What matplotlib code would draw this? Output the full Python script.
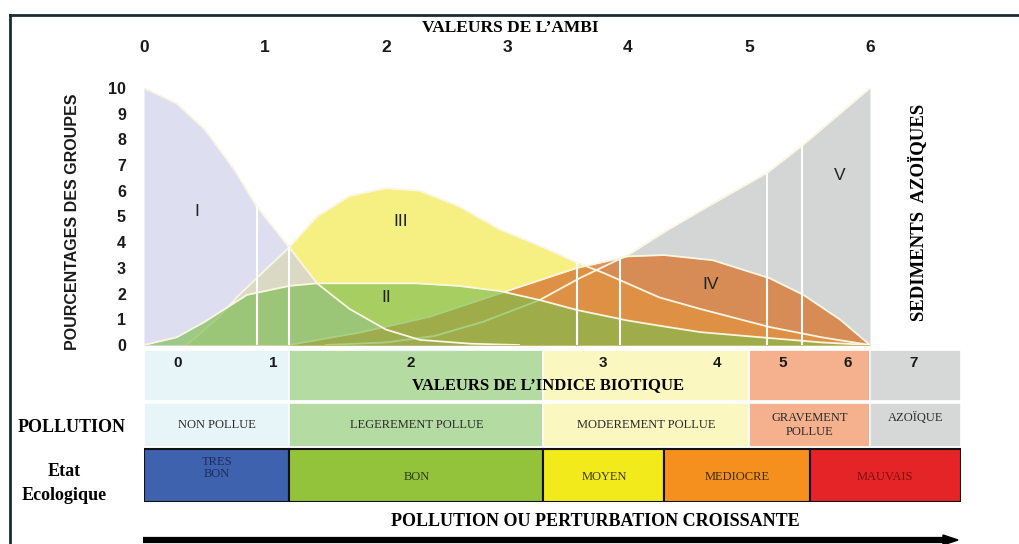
import numpy as np
import matplotlib
matplotlib.use("Agg")
import matplotlib.pyplot as plt
from matplotlib.patches import Rectangle

W, H = 1019, 544
SERIF = "Liberation Serif"
SANS = "Liberation Sans"

# --- data (AMBI value -> percentage of groups) ---
g1_x = [0, 0.27, 0.5, 0.75, 0.93, 1.2, 1.43, 1.7, 2.0, 2.28, 2.7, 3.1]
g1_y = [10, 9.4, 8.4, 6.8, 5.4, 3.8, 2.4, 1.4, 0.6, 0.2, 0.05, 0]

g2_x = [0, 0.27, 0.5, 0.85, 1.2, 1.43, 1.8, 2.25, 2.6, 2.94, 3.27, 3.58, 4.0, 4.26, 4.6, 5.17, 5.6, 6.0]
g2_y = [0, 0.3, 0.9, 1.95, 2.3, 2.4, 2.4, 2.4, 2.3, 2.1, 1.75, 1.36, 0.95, 0.75, 0.5, 0.27, 0.1, 0]

g3_x = [0.35, 0.6, 0.77, 0.93, 1.2, 1.43, 1.7, 2.0, 2.28, 2.6, 2.94, 3.3, 3.58, 3.8, 4.26, 4.6, 5.17, 5.6, 6.0]
g3_y = [0, 1.0, 1.87, 2.6, 3.8, 5.0, 5.8, 6.1, 6.0, 5.4, 4.5, 3.8, 3.2, 2.8, 1.85, 1.4, 0.7, 0.3, 0]

g4_x = [1.2, 1.8, 2.36, 3.0, 3.58, 4.0, 4.3, 4.7, 5.17, 5.45, 5.75, 6.0]
g4_y = [0, 0.5, 1.1, 2.1, 3.0, 3.45, 3.5, 3.3, 2.6, 1.95, 1.0, 0]

g5_x = [1.5, 2.0, 2.4, 2.8, 3.27, 3.6, 4.0, 4.3, 4.7, 5.15, 5.45, 6.0]
g5_y = [0, 0.1, 0.35, 0.9, 1.75, 2.6, 3.5, 4.4, 5.5, 6.7, 7.8, 10]

split_x = [0.93, 1.2, 3.58, 3.93, 5.15, 5.44]

ambi_ticks = [0, 1, 2, 3, 4, 5, 6]
pct_ticks = list(range(11))

# class limits (AMBI scale)
pollution_bounds = [0, 1.2, 3.3, 5.0, 6.0, 6.75]
pollution_labels = ["NON POLLUE", "LEGEREMENT POLLUE", "MODEREMENT POLLUE", "GRAVEMENT\nPOLLUE", "AZOÏQUE"]
pollution_colors = ["#e8f5f8", "#b4dca2", "#fbf7c0", "#f5b08d", "#d6d7d7"]

eco_bounds = [0, 1.2, 3.3, 4.3, 5.5, 6.75]
eco_labels = ["TRES\nBON", "BON", "MOYEN", "MEDIOCRE", "MAUVAIS"]
eco_colors = ["#3f62ae", "#93c23b", "#f2ea1a", "#f5901f", "#e52427"]
eco_text = ["#1d2c58", "#2f3a1a", "#3a3a10", "#3a2a10", "#7a1010"]

bi_labels = ["0", "1", "2", "3", "4", "5", "6", "7"]
bi_pos = [0.28, 1.07, 2.2, 3.79, 4.73, 5.28, 5.81, 6.36]

# drawing order: name, x, y, colour, alpha, fill zorder, outline zorder
groups = [
    ("V", g5_x, g5_y, "#d4d6d6", 1.0, 2, 5.5),
    ("III", g3_x, g3_y, "#f6f083", 1.0, 3, 5.5),
    ("I", g1_x, g1_y, "#cccde8", 0.65, 4, 10),
    ("IV", g4_x, g4_y, "#d97a35", 0.8, 5, 5.5),
    ("II", g2_x, g2_y, "#7cbd4e", 0.65, 6, 10),
]
roman_pos = {"I": (0.44, 5.2), "III": (2.12, 4.8), "II": (2.0, 1.85),
             "IV": (4.68, 2.35), "V": (5.75, 6.6)}


def fx(px):
    return px / W


def fy(py):
    return 1 - py / H


fig = plt.figure(figsize=(W / 100, H / 100), dpi=100)

# frame
fig.add_artist(plt.Line2D([fx(10), fx(1019)], [fy(15), fy(15)], color="#1b2b30", lw=2))
fig.add_artist(plt.Line2D([fx(10), fx(10)], [fy(15), fy(544)], color="#1b2b30", lw=2))

# --- curves ---
ax = fig.add_axes([fx(144), fy(345), 726 / W, 257 / H])
for name, x, y, col, a, zf, zl in groups:
    ax.fill_between(x, 0, y, color=col, alpha=a, lw=0, zorder=zf)
    ax.plot(x, y, color="#fbf6e2", lw=1.3, zorder=zl)

xs = np.linspace(0, 6, 601)
envelope = np.max([np.interp(xs, g[1], g[2], left=0, right=0) for g in groups], axis=0)
for sx in split_x:
    ax.vlines(sx, 0, np.interp(sx, xs, envelope), color="white", lw=1.5, zorder=11)

for name, (rx, ry) in roman_pos.items():
    ax.text(rx, ry, name, ha="center", va="center", fontsize=12.5, family=SANS,
            color="#222222", zorder=12)

ax.set_xlim(0, 6)
ax.set_ylim(0, 10)
for s in ax.spines.values():
    s.set_visible(False)
ax.xaxis.tick_top()
ax.set_xticks(ambi_ticks)
ax.set_yticks(pct_ticks)
ax.tick_params(axis="x", length=0, pad=24, labelsize=12.5)
ax.tick_params(axis="y", length=0, pad=13, labelsize=11.5)
for lab in ax.get_xticklabels() + ax.get_yticklabels():
    lab.set_fontweight("bold")
    lab.set_family(SANS)
    lab.set_color("#1a1a1a")

fig.text(fx(510), fy(28), "VALEURS DE L\u2019AMBI", ha="center", va="center",
         family=SERIF, fontweight="bold", fontsize=12.5)
fig.text(fx(73), fy(222), "POURCENTAGES DES GROUPES", rotation=90, ha="center", va="center",
         family=SANS, fontweight="bold", fontsize=11.5, color="#1a1a1a")
fig.text(fx(918), fy(212), "SEDIMENTS  AZOÏQUES", rotation=90, ha="center", va="center",
         family=SERIF, fontweight="bold", fontsize=13.5)

# --- classification table ---
axt = fig.add_axes([fx(144), fy(502), 817 / W, 152 / H])
axt.set_xlim(0, 6.75)
axt.set_ylim(502, 350)
axt.axis("off")

for i in range(len(pollution_labels)):
    x0, x1 = pollution_bounds[i], pollution_bounds[i + 1]
    axt.add_patch(Rectangle((x0, 350), x1 - x0, 51, facecolor=pollution_colors[i], edgecolor="white", lw=1.2))
    axt.add_patch(Rectangle((x0, 403), x1 - x0, 44, facecolor=pollution_colors[i], edgecolor="white", lw=1.2))
    ty = 418 if i == 4 else 425
    axt.text((x0 + x1) / 2, ty, pollution_labels[i], ha="center", va="center",
             family=SERIF, fontsize=9, color="#2a2a2a", linespacing=1.3)

for lab, p in zip(bi_labels, bi_pos):
    axt.text(p, 363, lab, ha="center", va="center", family=SANS, fontweight="bold",
             fontsize=11, color="#1a1a1a")
axt.text(3.34, 385, "VALEURS DE L\u2019INDICE BIOTIQUE", ha="center", va="center",
         family=SERIF, fontweight="bold", fontsize=12)

for i in range(len(eco_labels)):
    x0, x1 = eco_bounds[i], eco_bounds[i + 1]
    axt.add_patch(Rectangle((x0, 449), x1 - x0, 53, facecolor=eco_colors[i], edgecolor="#111111", lw=1.5))
    ty = 468 if i == 0 else 477
    axt.text((x0 + x1) / 2, ty, eco_labels[i], ha="center", va="center",
             family=SERIF, fontsize=9, color=eco_text[i], linespacing=1.1)

fig.text(fx(72), fy(428), "POLLUTION", ha="center", va="center", family=SERIF,
         fontweight="bold", fontsize=13)
fig.text(fx(64), fy(472), "Etat", ha="center", va="center", family=SERIF,
         fontweight="bold", fontsize=13)
fig.text(fx(64), fy(495), "Ecologique", ha="center", va="center", family=SERIF,
         fontweight="bold", fontsize=13)

fig.text(fx(595), fy(522), "POLLUTION OU PERTURBATION CROISSANTE", ha="center", va="center",
         family=SERIF, fontweight="bold", fontsize=13)
fig.add_artist(plt.Line2D([fx(143), fx(945)], [fy(540), fy(540)], color="black", lw=4.5,
                          solid_capstyle="butt"))
fig.patches.append(plt.Polygon([[fx(943), fy(535)], [fx(958), fy(540)], [fx(943), fy(545)]],
                               closed=True, color="black", transform=fig.transFigure))

fig.savefig("out.png", dpi=100, facecolor="white")
